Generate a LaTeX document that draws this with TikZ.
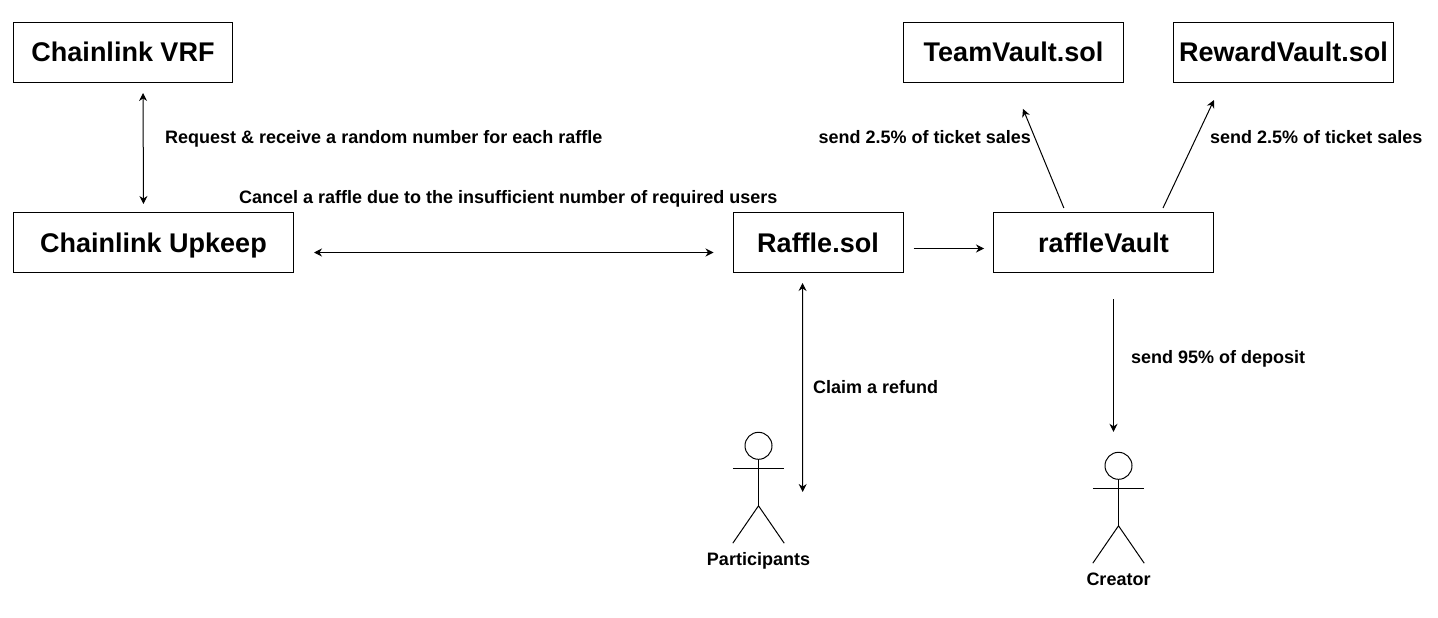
\documentclass[tikz,border=0pt]{standalone}
\usepackage{fontspec}
\setmainfont{Liberation Sans}
\usetikzlibrary{arrows.meta}
\tikzset{
  box/.style={draw=black,line width=1pt,minimum height=60pt,inner sep=0pt,text height=19pt,text depth=0pt,font=\fontsize{27}{30}\selectfont\bfseries},
  lbl/.style={inner sep=0pt,text height=13pt,text depth=0pt,font=\fontsize{18}{20}\selectfont\bfseries},
  actorbox/.style={minimum width=51pt,minimum height=111pt,inner sep=0pt},
  stick/.style={line width=1pt,black},
  link/.style={line width=1pt,-{Stealth[length=8pt,width=8pt]}},
  dlink/.style={line width=1pt,{Stealth[length=8pt,width=8pt]}-{Stealth[length=8pt,width=8pt]}}
}
\begin{document}
\begin{tikzpicture}[x=1pt,y=-1pt]
\useasboundingbox (0,0) rectangle (1438,618);
\fill[white] (0,0) rectangle (1438,618);
\node[box,minimum width=219pt] (vrf) at (123,52.5) {Chainlink VRF};
\node[box,minimum width=280pt] (upkeep) at (153.5,242.5) {Chainlink Upkeep};
\node[box,minimum width=170pt] (raffle) at (818,242.5) {Raffle.sol};
\node[box,minimum width=220pt] (vault) at (1103.5,242.5) {raffleVault};
\node[box,minimum width=220pt] (team) at (1013.5,52.5) {TeamVault.sol};
\node[box,minimum width=220pt] (reward) at (1283.5,52.5) {RewardVault.sol};
\node[actorbox] (part) at (758.5,487.5) {};
\node[actorbox] (crea) at (1118.5,507.5) {};
\foreach \a in {part,crea}{
  \draw[stick] ([yshift=-14]\a.north) circle[radius=13.5pt];
  \draw[stick] ([yshift=-28]\a.north) -- ([yshift=-74]\a.north);
  \draw[stick] ([yshift=-37]\a.north west) -- ([yshift=-37]\a.north east);
  \draw[stick] (\a.south west) -- ([yshift=-74]\a.north) -- (\a.south east);
}
\node[lbl] (partl) at (758.5,558.5) {Participants};
\node[lbl] (creal) at (1118.5,578.5) {Creator};
\node[lbl,anchor=west] (l1) at (165,136.5) {Request \& receive a random number for each raffle};
\node[lbl,anchor=west] (l2) at (239,197) {Cancel a raffle due to the insufficient number of required users};
\node[lbl,anchor=east] (l3) at (1031,137) {send 2.5\% of ticket sales};
\node[lbl,anchor=west] (l4) at (1210,137) {send 2.5\% of ticket sales};
\node[lbl,anchor=west] (l5) at (813,387) {Claim a refund};
\node[lbl,anchor=west] (l6) at (1131,357) {send 95\% of deposit};
\draw[dlink,shorten <=10pt,shorten >=8pt] ([xshift=20]vrf.south) -- ([xshift=-10]upkeep.north);
\draw[dlink,shorten <=20pt,shorten >=19pt] ([yshift=-10]upkeep.east) -- ([yshift=-10]raffle.west);
\draw[link,shorten <=10pt,shorten >=9pt] ([yshift=-6]raffle.east) -- ([yshift=-6]vault.west);
\draw[link,shorten <=4.3pt,shorten >=28pt] ([xshift=-38]vault.north) -- ([xshift=-1.2]team.south);
\draw[link,shorten <=4.4pt,shorten >=18.8pt] ([xshift=57.6]vault.north) -- ([xshift=-61.5]reward.south);
\draw[dlink,shorten <=10pt] ([xshift=-15.5]raffle.south) -- ([xshift=18.5,yshift=-4.5]part.east);
\draw[link,shorten <=26pt,shorten >=20pt] ([xshift=10]vault.south) -- ([xshift=-5]crea.north);
\end{tikzpicture}
\end{document}
